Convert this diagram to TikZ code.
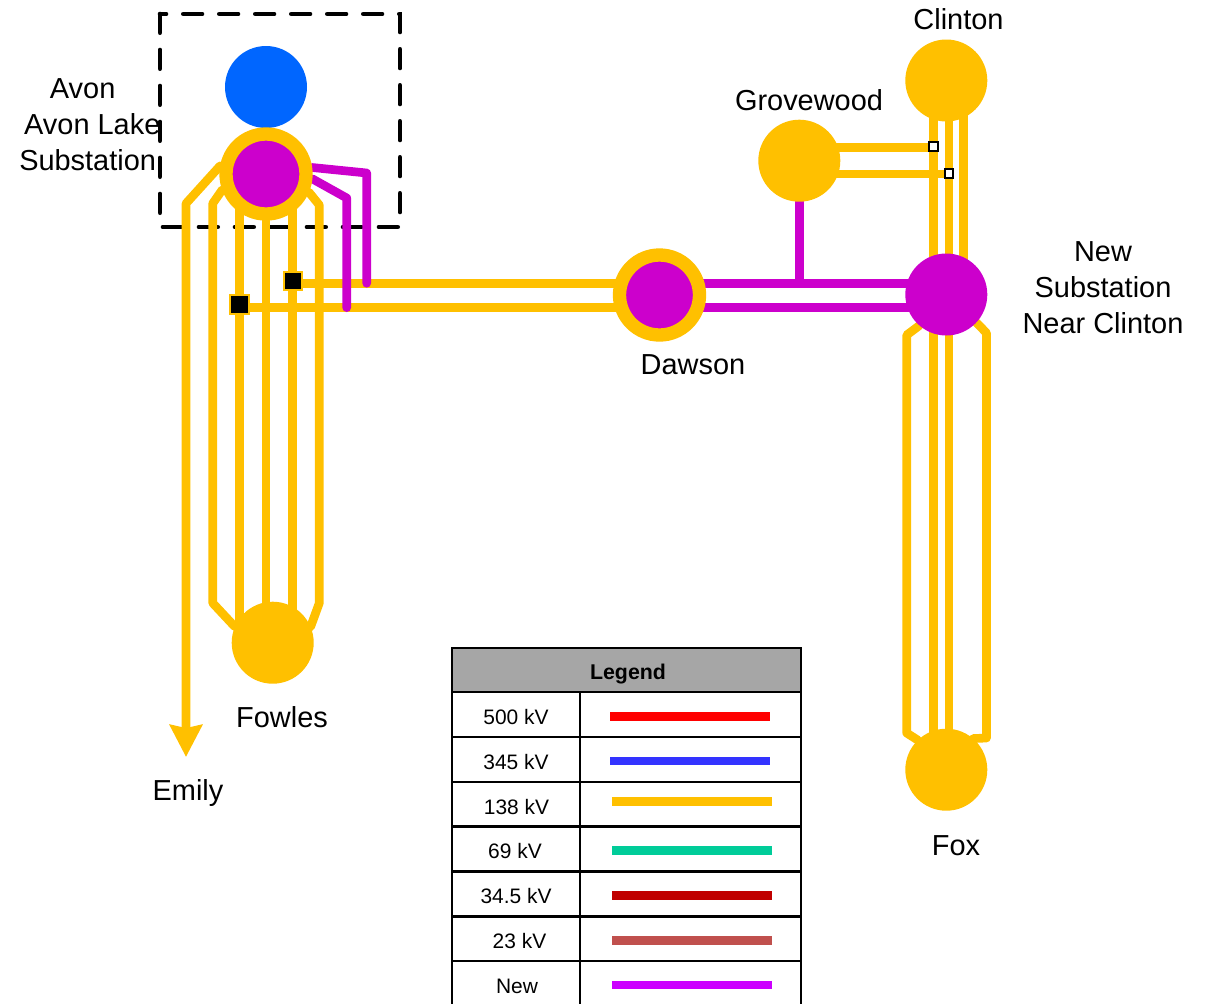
\documentclass[tikz,border=0pt]{standalone}
\usepackage{fontspec}
\setmainfont{Liberation Sans}
\usetikzlibrary{arrows.meta,backgrounds}
\definecolor{kvOrange}{HTML}{FFC000}
\definecolor{kvMagenta}{HTML}{CC00CC}
\definecolor{kvBlue}{HTML}{0066FF}
\begin{document}
\begin{tikzpicture}[x=0.75pt,y=-0.75pt]

    \tikzset{
      bus/.style={
        circle,
        inner sep=0pt,
        minimum size=61.5pt,
      },
      ringbus/.style={
        circle,
        inner sep=0pt,
        minimum size=60pt,
        fill=kvMagenta,
        draw=kvOrange,
        line width=10pt,
      },
      line138/.style={
        draw=kvOrange,
        line width=6.5pt,
        line join=round,
        line cap=round,
      },
      lineNew/.style={
        draw=kvMagenta,
        line width=6.5pt,
        line join=round,
        line cap=round,
      },
      breakerclosed/.style={
        rectangle,
        inner sep=0pt,
        minimum size=14pt,
        fill=black,
        draw=kvOrange,
        line width=1.5pt,
      },
      breakeropen/.style={
        rectangle,
        inner sep=0pt,
        minimum size=6.5pt,
        fill=white,
        draw=black,
        line width=1.6pt,
      },
      sublabel/.style={
        inner sep=0pt,
        font=\fontsize{21.7}{27}\selectfont,
      },
      legendtext/.style={
        inner sep=0pt,
        font=\fontsize{15.7}{19}\selectfont,
      },
      legendgrid/.style={
        draw=black,
        line width=2.2pt,
      },
      legendkey/.style={
        line width=6.5pt,
      },
    }
    \useasboundingbox (0,0) rectangle (1206,1003);

    % substations
    \node[bus,fill=kvBlue] (avonTop) at (266,87) {};
    \node[ringbus] (avon) at (266,174) {};
    \node[ringbus] (dawson) at (659.5,295) {};
    \node[bus,fill=kvOrange] (fowles) at (272.7,642.7) {};
    \node[bus,fill=kvOrange] (grovewood) at (799.3,160.7) {};
    \node[bus,fill=kvOrange] (clinton) at (946.3,80.5) {};
    \node[bus,fill=kvMagenta] (newsub) at (946.3,294.5) {};
    \node[bus,fill=kvOrange] (fox) at (946.3,769.7) {};

    \node[breakerclosed] (brkA) at (293,281) {};
    \node[breakerclosed] (brkB) at (239.3,304.5) {};
    \node[breakeropen] (brkC) at (933.3,146.5) {};
    \node[breakeropen] (brkD) at (949,173.5) {};

    \node[sublabel,align=left,anchor=west] (avonText) at (19,124.5) {\hspace*{23pt}Avon\\\hspace*{3.7pt}Avon Lake\\Substation};
    \node[sublabel] (clintonText) at (958.5,19.5) {Clinton};
    \node[sublabel] (grovewoodText) at (809,100) {Grovewood};
    \node[sublabel,align=center] (newsubText) at (1103,288) {New\\Substation\\Near Clinton};
    \node[sublabel] (dawsonText) at (693,365) {Dawson};
    \node[sublabel] (fowlesText) at (282,717) {Fowles};
    \node[sublabel] (emilyText) at (188,793) {Emily};
    \node[sublabel] (foxText) at (956,845.5) {Fox};

    % bends and line guides
    \coordinate (emilyTop) at (186,203.5);
    \coordinate (emilyEnd) at (186,757);
    \coordinate (colA) at (212.7,203.5);
    \coordinate (colAb) at (212.7,603);
    \coordinate (colB) at (239.7,400);
    \coordinate (colC) at (266,400);
    \coordinate (colD) at (292.7,400);
    \coordinate (colE) at (319.3,205);
    \coordinate (colEb) at (319.3,603);
    \coordinate (rowA) at (500,283.3);
    \coordinate (rowB) at (500,307.7);
    \coordinate (newA) at (366.7,173);
    \coordinate (newAe) at (366.7,283.3);
    \coordinate (newB) at (346.7,198);
    \coordinate (newBe) at (346.7,307.7);
    \coordinate (colF) at (933.3,500);
    \coordinate (colG) at (949,500);
    \coordinate (colH) at (963.7,200);
    \coordinate (colI) at (906.7,335);
    \coordinate (colIb) at (906.7,733);
    \coordinate (colJ) at (986.5,333);
    \coordinate (colJb) at (986.5,738);
    \coordinate (rowC) at (850,147.3);
    \coordinate (rowD) at (850,174);

    \begin{pgfonlayer}{background}
      \draw[black,line width=3.5pt,line cap=round,dash pattern=on 14pt off 13pt] (160,14) rectangle (400,227);

      \draw[line138,-{Stealth[length=24pt,width=24pt,inset=2.3pt]}] (avon.170)--(emilyTop)--(emilyEnd);
      \draw[line138] (avon.200)--(colA)--(colAb)--(fowles.157);
      \draw[line138] (colB |- avon)--(colB |- fowles);
      \draw[line138] (colC |- avon)--(colC |- fowles);
      \draw[line138] (colD |- avon)--(colD |- fowles);
      \draw[line138] (avon.337)--(colE)--(colEb)--(fowles.23);
      \draw[line138] (brkA |- rowA)--(dawson |- rowA);
      \draw[line138] (brkB |- rowB)--(dawson |- rowB);

      \draw[line138] (grovewood |- rowC)--(brkC |- rowC);
      \draw[line138] (grovewood |- rowD)--(brkD |- rowD);
      \draw[line138] (colF |- clinton)--(colF |- fox);
      \draw[line138] (colG |- clinton)--(colG |- fox);
      \draw[line138] (colH |- clinton)--(colH |- newsub);
      \draw[line138] (newsub.229)--(colI)--(colIb)--(fox.134);
      \draw[line138] (newsub.317)--(colJ)--(colJb)--(fox.49);

      \draw[lineNew] (avon.8)--(newA)--(newAe);
      \draw[lineNew] (avon.354)--(newB)--(newBe);
      \draw[lineNew] (dawson |- rowA)--(newsub |- rowA);
      \draw[lineNew] (dawson |- rowB)--(newsub |- rowB);
      \draw[lineNew] (grovewood)--(grovewood |- rowA);
    \end{pgfonlayer}

    % legend
    \fill[black!35] (452,648) rectangle (801,692);
    \draw[legendgrid] (452,1010)--(452,648)--(801,648)--(801,1010);
    \draw[legendgrid] (452,692)--(801,692);
    \draw[legendgrid] (452,737)--(801,737);
    \draw[legendgrid] (452,782)--(801,782);
    \draw[legendgrid] (452,826.7)--(801,826.7);
    \draw[legendgrid] (452,871.5)--(801,871.5);
    \draw[legendgrid] (452,916.5)--(801,916.5);
    \draw[legendgrid] (452,961)--(801,961);
    \draw[legendgrid] (580,692)--(580,1010);

    \node[legendtext,font=\fontsize{16}{19}\selectfont\bfseries] (legendHead) at (628,674.5) {Legend};
    \node[legendtext] (kv500) at (516,717.5) {500 kV};
    \node[legendtext] (kv345) at (516,762.5) {345 kV};
    \node[legendtext] (kv138) at (516.5,807) {138 kV};
    \node[legendtext] (kv69) at (515,851.5) {69 kV};
    \node[legendtext] (kv34) at (516,896.5) {34.5 kV};
    \node[legendtext] (kv23) at (519.5,941.5) {23 kV};
    \node[legendtext] (kvNew) at (517,986.5) {New};

    \draw[legendkey,color={red}] (610,716.3)--(770,716.3);
    \draw[legendkey,color={rgb,255:red,51;green,51;blue,255}] (610,761)--(770,761);
    \draw[legendkey,color={kvOrange}] (612,801.3)--(772,801.3);
    \draw[legendkey,color={rgb,255:red,0;green,204;blue,153}] (612,850.7)--(772,850.7);
    \draw[legendkey,color={rgb,255:red,192;green,0;blue,0}] (612,895.3)--(772,895.3);
    \draw[legendkey,color={rgb,255:red,192;green,80;blue,77}] (612,940.3)--(772,940.3);
    \draw[legendkey,color={rgb,255:red,204;green,0;blue,255}] (612,985)--(772,985);

\end{tikzpicture}
\end{document}
